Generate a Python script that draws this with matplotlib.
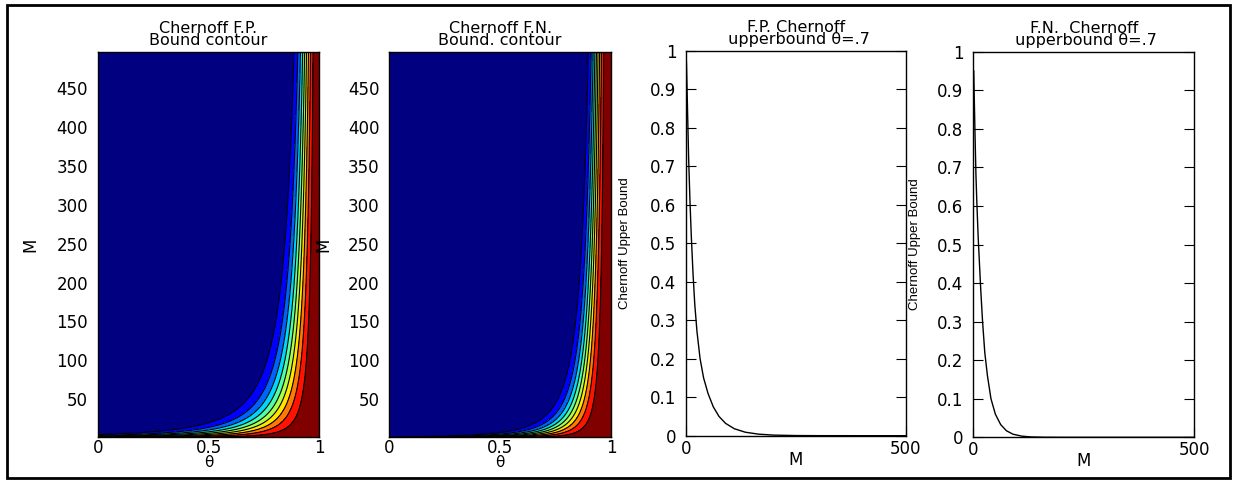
import numpy as np
import matplotlib
matplotlib.use("Agg")
import matplotlib.pyplot as plt
from matplotlib.patches import Rectangle

# ---------------- data ----------------
# contour panels: theta axis, M axis, contour levels
theta_range = [0.0, 1.0]
M_range = [1, 497]
contour_levels = [0.0, 0.1, 0.2, 0.3, 0.4, 0.5, 0.6, 0.7, 0.8, 0.9, 1.0001]
# decay of the bound exp(-M * a * (1-theta)^p), constants
fp_rate_a, fp_rate_p = 0.55, 2.2
fn_rate_a, fn_rate_p = 2.18, 2.7

contour_yticks = [50, 100, 150, 200, 250, 300, 350, 400, 450]
contour_xticks = [0, 0.5, 1]
contour_xticklabels = ["0", "0.5", "1"]

# line panels (theta = .7)
fp_M = [1, 2, 4, 6, 9, 12, 16, 20, 25, 32, 40, 50, 62, 75, 90, 110, 135, 165, 200, 250, 300, 400, 500]
fp_val = [0.97, 0.92, 0.82, 0.72, 0.61, 0.52, 0.42, 0.34, 0.27, 0.20, 0.15, 0.11, 0.075, 0.05,
          0.032, 0.018, 0.009, 0.004, 0.0015, 0.0004, 0.0001, 0.0, 0.0]
fn_M = [1, 2, 4, 6, 8, 11, 14, 17, 21, 26, 32, 40, 50, 62, 75, 90, 110, 130, 160, 200, 300, 500]
fn_val = [0.95, 0.89, 0.78, 0.68, 0.61, 0.52, 0.45, 0.38, 0.30, 0.22, 0.16, 0.10, 0.06, 0.033,
          0.017, 0.008, 0.003, 0.001, 0.0002, 0.0, 0.0, 0.0]
line_yticks = [0, 0.1, 0.2, 0.3, 0.4, 0.5, 0.6, 0.7, 0.8, 0.9, 1]
line_yticklabels = ["0", "0.1", "0.2", "0.3", "0.4", "0.5", "0.6", "0.7", "0.8", "0.9", "1"]
line_xticks = [0, 500]

titles = ["Chernoff F.P.\nBound contour", "Chernoff F.N.\nBound. contour",
          "F.P. Chernoff\n upperbound \u03b8=.7", "F.N.  Chernoff\n upperbound \u03b8=.7"]

# ---------------- figure ----------------
W, H = 1237, 483
fig = plt.figure(figsize=(W / 100, H / 100), dpi=100)
fig.patches.append(Rectangle((7 / W, 5 / H), 1223 / W, 473 / H, transform=fig.transFigure,
                             fill=False, edgecolor="black", linewidth=2))

FS = 12
TFS = 11.5

def px_axes(x0, x1, ytop, ybot):
    return fig.add_axes([x0 / W, (H - ybot) / H, (x1 - x0) / W, (ybot - ytop) / H])

ax1 = px_axes(97.7, 319.3, 52, 437)
ax2 = px_axes(389.3, 611.0, 52, 437)
ax3 = px_axes(686.0, 906.0, 50.7, 435.7)
ax4 = px_axes(973.3, 1194.0, 51.7, 437.3)

theta = np.linspace(theta_range[0], theta_range[1], 501)
Mg = np.linspace(M_range[0], M_range[1], 600)
band_colors = plt.cm.jet(np.linspace(0, 1, len(contour_levels) - 1))


def style_title(ax, title):
    ax.set_title(title, fontsize=TFS, linespacing=0.75, pad=5)


for ax, (a, p), title, labx in [(ax1, (fp_rate_a, fp_rate_p), titles[0], -0.305),
                                (ax2, (fn_rate_a, fn_rate_p), titles[1], -0.299)]:
    Z = np.exp(-Mg[:, None] * a * (1 - theta[None, :]) ** p)
    ax.contourf(theta, Mg, Z, levels=contour_levels, colors=band_colors)
    ax.contour(theta, Mg, Z, levels=contour_levels[1:-1], colors="black", linewidths=0.8)
    ax.set_xlim(theta_range)
    ax.set_ylim(M_range)
    ax.set_yticks(contour_yticks)
    ax.set_xticks(contour_xticks)
    ax.set_xticklabels(contour_xticklabels)
    ax.tick_params(length=0, labelsize=FS, pad=7)
    ax.tick_params(axis="x", pad=1.5)
    style_title(ax, title)
    ax.set_ylabel("M", fontsize=FS)
    ax.yaxis.set_label_coords(labx, 0.5)
    ax.yaxis.label.set_va("center")
    ax.set_xlabel("\u03b8", fontsize=11)
    ax.xaxis.set_label_coords(0.5, -0.047)
    ax.xaxis.label.set_va("top")

for ax, Ms, vals, title, labx in [(ax3, fp_M, fp_val, titles[2], -0.277),
                                  (ax4, fn_M, fn_val, titles[3], -0.264)]:
    ax.plot(Ms, vals, color="black", linewidth=1.0)
    ax.set_xlim(0, 500)
    ax.set_ylim(0, 1)
    ax.set_yticks(line_yticks)
    ax.set_yticklabels(line_yticklabels)
    ax.set_xticks(line_xticks)
    ax.tick_params(direction="in", length=7, width=0.8, labelsize=FS, pad=7,
                   right=True, top=False)
    ax.tick_params(axis="x", pad=3)
    style_title(ax, title)
    ax.set_ylabel("Chernoff Upper Bound", fontsize=9.5,
                  family=["Liberation Sans Narrow", "Liberation Sans", "DejaVu Sans"])
    ax.yaxis.set_label_coords(labx, 0.5)
    ax.yaxis.label.set_va("center")
    ax.set_xlabel("M", fontsize=FS)
    ax.xaxis.set_label_coords(0.5, -0.062)
    ax.xaxis.label.set_va("center")

for ax in (ax1, ax2, ax3, ax4):
    for s in ax.spines.values():
        s.set_linewidth(1.0)

fig.savefig("out.png", dpi=100)
